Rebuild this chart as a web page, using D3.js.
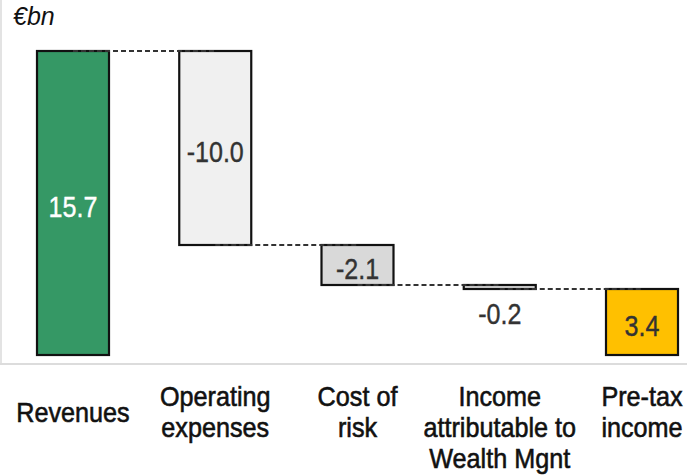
<!DOCTYPE html>
<html>
<head>
<meta charset="utf-8">
<script src="https://cdn.jsdelivr.net/npm/d3@7"></script>
<style>
  body { margin: 0; background: #fff; }
</style>
</head>
<body>
<div id="chart"></div>
<script>
// Waterfall: revenues down to pre-tax income (EUR bn)

const categories = ["Revenues", "Operating expenses", "Cost of risk", "Income attributable to Wealth Mgnt", "Pre-tax income"];
const labelLines = [["Revenues"], ["Operating", "expenses"], ["Cost of", "risk"], ["Income", "attributable to", "Wealth Mgnt"], ["Pre-tax", "income"]];
const values = [15.7, -10.0, -2.1, -0.2, 3.4];
const kinds = ["total", "delta", "delta", "delta", "total"];
const valueLabels = ["15.7", "-10.0", "-2.1", "-0.2", "3.4"];
const fills = ["#359865", "#f0f0f0", "#d9d9d9", "#d9d9d9", "#ffc000"];
const labelColors = ["#ffffff", "#333333", "#333333", "#333333", "#333333"];

const width = 687;
const height = 476;
const narrow = 0.85; // no narrow font installed, squeeze instead

// running totals -> start/end of each bar
let run = 0;
const bars = categories.map((c, i) => {
    let y0, y1;
    if (kinds[i] === "total") {
        y0 = 0; y1 = values[i]; run = values[i];
    } else {
        y0 = run; y1 = run + values[i]; run = y1;
    }
    return { cat: c, lines: labelLines[i], v0: y0, v1: y1, i };
});

const svg = d3.select("#chart").append("svg")
    .attr("width", width)
    .attr("height", height);

const x = d3.scalePoint()
    .domain(categories)
    .range([73, 642]);
const barWidth = 72;

const y = d3.scaleLinear()
    .domain([0, 15.7])
    .range([355, 51]);
const yr = v => Math.round(y(v));

// frame lines
svg.append("line")
    .attr("x1", 1).attr("x2", 1)
    .attr("y1", 0).attr("y2", 364)
    .attr("stroke", "#e3e3e3").attr("stroke-width", 2);
svg.append("line")
    .attr("x1", 0).attr("x2", width)
    .attr("y1", 364).attr("y2", 364)
    .attr("stroke", "#dcdcdc").attr("stroke-width", 2);

// unit
svg.append("text")
    .attr("x", 13).attr("y", 25)
    .attr("font-family", "Liberation Sans, Arial, sans-serif")
    .attr("font-style", "italic")
    .attr("font-size", "25px")
    .attr("fill", "#111")
    .text("€bn");

// bars
svg.selectAll("rect.bar")
    .data(bars)
    .enter().append("rect")
    .attr("class", "bar")
    .attr("x", d => x(d.cat) - barWidth / 2)
    .attr("y", d => yr(Math.max(d.v0, d.v1)))
    .attr("width", barWidth)
    .attr("height", d => Math.abs(yr(d.v0) - yr(d.v1)))
    .attr("fill", d => fills[d.i])
    .attr("stroke", "#111")
    .attr("stroke-width", 2.2);

// connectors, center to center
const links = bars.slice(0, -1).map((d, i) => ({ a: d, b: bars[i + 1], level: d.v1 }));
svg.selectAll("line.link")
    .data(links)
    .enter().append("line")
    .attr("class", "link")
    .attr("x1", d => x(d.a.cat))
    .attr("x2", d => x(d.b.cat))
    .attr("y1", d => yr(d.level))
    .attr("y2", d => yr(d.level))
    .attr("stroke", "#333")
    .attr("stroke-width", 2.2)
    .attr("stroke-dasharray", "5,3");

// value labels
svg.selectAll("text.val")
    .data(bars)
    .enter().append("text")
    .attr("class", "val")
    .attr("transform", d => {
        const top = yr(Math.max(d.v0, d.v1));
        const bot = yr(Math.min(d.v0, d.v1));
        // thin bar: label goes underneath
        const by = (bot - top < 30) ? bot + 35 : (top + bot) / 2 + 14;
        return `translate(${x(d.cat)},${by}) scale(${narrow},1)`;
    })
    .attr("text-anchor", "middle")
    .attr("font-family", "Liberation Sans, Arial, sans-serif")
    .attr("font-size", "29.5px")
    .attr("fill", d => labelColors[d.i])
    .attr("stroke", d => labelColors[d.i])
    .attr("stroke-width", 0.4)
    .text(d => valueLabels[d.i]);

// category labels
const lineH = 31;
const cat = svg.selectAll("text.cat")
    .data(bars)
    .enter().append("text")
    .attr("class", "cat")
    .attr("transform", d => `translate(${x(d.cat)},${d.lines.length === 1 ? 422 : 406}) scale(0.9,1)`)
    .attr("text-anchor", "middle")
    .attr("font-family", "Liberation Sans, Arial, sans-serif")
    .attr("font-size", "28px")
    .attr("fill", "#111")
    .attr("stroke", "#111")
    .attr("stroke-width", 0.6);

cat.selectAll("tspan")
    .data(d => d.lines)
    .enter().append("tspan")
    .attr("x", 0)
    .attr("dy", (d, j) => j === 0 ? 0 : lineH)
    .text(d => d);
</script>
</body>
</html>
